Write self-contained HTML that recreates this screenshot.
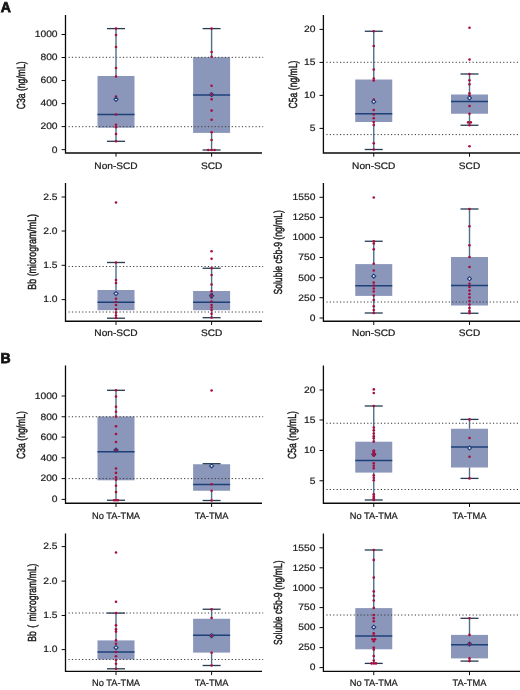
<!DOCTYPE html>
<html lang="en"><head><meta charset="utf-8"><title>Complement levels box plots</title>
<style>
html,body{margin:0;padding:0;background:#fff;}
body{width:520px;height:690px;overflow:hidden;}
svg{display:block;}
text{font-family:"Liberation Sans", sans-serif;fill:#1a1a1a;text-rendering:geometricPrecision;}
.tk{font-size:9.2px;text-anchor:end;stroke:#1a1a1a;stroke-width:0.2;}
.xl{font-size:9.4px;text-anchor:middle;stroke:#1a1a1a;stroke-width:0.22;}
.yl{font-size:11.7px;text-anchor:middle;stroke:#1a1a1a;stroke-width:0.45;}
.pl{font-size:14.3px;font-weight:bold;fill:#111;stroke:#111;stroke-width:0.75;}
.ax{stroke:#0a0a0a;stroke-width:1.3;fill:none;}
.tm{stroke:#0a0a0a;stroke-width:1.0;fill:none;}
.dt{stroke:#3a3a3a;stroke-width:1;stroke-dasharray:1.2 2.2;fill:none;}
.bx{fill:#8b97ba;}
.md{stroke:#1d4079;stroke-width:1.5;fill:none;}
.wh{stroke:#4f6f8b;stroke-width:1.4;fill:none;}
.cp{stroke:#263a52;stroke-width:1.3;fill:none;}
.pt{fill:#a80e3d;}
.mn{fill:#e6e9f3;stroke:#1d3a78;stroke-width:1.1;}
</style></head><body>
<svg width="520" height="690" viewBox="0 0 520 690" role="img" aria-label="Box plots of complement levels">
<rect width="520" height="690" fill="#ffffff"/>
<text class="pl" transform="translate(0.7 12.2) scale(0.98 1)">A</text>
<text class="pl" transform="translate(0.6 363.3) scale(0.98 1)">B</text>
<g>
<rect class="bx" x="97.5" y="76" width="37" height="51.7"/>
<rect class="bx" x="193.1" y="57.2" width="37" height="75.7"/>
<line class="dt" x1="68.5" y1="57.3" x2="263.2" y2="57.3"/>
<line class="dt" x1="68.5" y1="126.7" x2="263.2" y2="126.7"/>
<line class="wh" x1="116" y1="28.6" x2="116" y2="76"/>
<line class="wh" x1="116" y1="127.7" x2="116" y2="141.3"/>
<line class="cp" x1="107" y1="28.6" x2="125" y2="28.6"/>
<line class="cp" x1="107" y1="141.3" x2="125" y2="141.3"/>
<line class="md" x1="97.5" y1="114.6" x2="134.5" y2="114.6"/>
<circle class="pt" cx="116" cy="28.6" r="1.3"/>
<circle class="pt" cx="116" cy="35" r="1.3"/>
<circle class="pt" cx="116" cy="47" r="1.3"/>
<circle class="pt" cx="116" cy="68" r="1.3"/>
<circle class="pt" cx="116" cy="76.5" r="1.3"/>
<circle class="pt" cx="116" cy="96.6" r="1.3"/>
<circle class="pt" cx="116" cy="114.5" r="1.3"/>
<circle class="pt" cx="116" cy="124.7" r="1.3"/>
<circle class="pt" cx="116" cy="127.3" r="1.3"/>
<circle class="pt" cx="116" cy="134" r="1.3"/>
<circle class="pt" cx="116" cy="141.3" r="1.3"/>
<path class="mn" d="M116 97.25L118.05 99.3L116 101.35L113.95 99.3Z"/>
<line class="wh" x1="211.6" y1="28.6" x2="211.6" y2="57.2"/>
<line class="wh" x1="211.6" y1="132.9" x2="211.6" y2="150"/>
<line class="cp" x1="202.6" y1="28.6" x2="220.6" y2="28.6"/>
<line class="cp" x1="202.6" y1="150" x2="220.6" y2="150"/>
<line class="md" x1="193.1" y1="95" x2="230.1" y2="95"/>
<circle class="pt" cx="211.6" cy="28.6" r="1.3"/>
<circle class="pt" cx="211.6" cy="52" r="1.3"/>
<circle class="pt" cx="211.6" cy="56.7" r="1.3"/>
<circle class="pt" cx="211.6" cy="85.7" r="1.3"/>
<circle class="pt" cx="211.6" cy="99.2" r="1.3"/>
<circle class="pt" cx="211.6" cy="110.6" r="1.3"/>
<circle class="pt" cx="211.6" cy="119.8" r="1.3"/>
<circle class="pt" cx="211.6" cy="132.2" r="1.3"/>
<circle class="pt" cx="211.6" cy="140" r="1.3"/>
<circle class="pt" cx="208.3" cy="150" r="1.3"/>
<circle class="pt" cx="211.6" cy="150" r="1.3"/>
<circle class="pt" cx="214.6" cy="150" r="1.3"/>
<path class="mn" d="M211.6 92.55L213.65 94.6L211.6 96.65L209.55 94.6Z"/>
<circle class="pt" cx="211.6" cy="94.6" r="1.3"/>
<path class="ax" d="M65.5 15V153H262"/>
<line class="tm" x1="61.6" y1="34.5" x2="65.5" y2="34.5"/>
<text class="tk" transform="translate(57.6 37.35) scale(1.12 1)">1000</text>
<line class="tm" x1="61.6" y1="57.5" x2="65.5" y2="57.5"/>
<text class="tk" transform="translate(57.6 60.35) scale(1.12 1)">800</text>
<line class="tm" x1="61.6" y1="80.55" x2="65.5" y2="80.55"/>
<text class="tk" transform="translate(57.6 83.4) scale(1.12 1)">600</text>
<line class="tm" x1="61.6" y1="103.6" x2="65.5" y2="103.6"/>
<text class="tk" transform="translate(57.6 106.45) scale(1.12 1)">400</text>
<line class="tm" x1="61.6" y1="126.6" x2="65.5" y2="126.6"/>
<text class="tk" transform="translate(57.6 129.45) scale(1.12 1)">200</text>
<line class="tm" x1="61.6" y1="149.65" x2="65.5" y2="149.65"/>
<text class="tk" transform="translate(57.6 152.5) scale(1.12 1)">0</text>
<line class="tm" x1="116" y1="153" x2="116" y2="156.7"/>
<text class="xl" transform="translate(116 168.75) scale(1.08 1)">Non-SCD</text>
<line class="tm" x1="211.6" y1="153" x2="211.6" y2="156.7"/>
<text class="xl" transform="translate(211.6 168.75) scale(1.08 1)">SCD</text>
<text class="yl" transform="translate(24.8 85.3) rotate(-90) scale(0.735 1)">C3a (ng/mL)</text>
</g>
<g>
<rect class="bx" x="355.25" y="79.5" width="37" height="42.5"/>
<rect class="bx" x="451" y="94.5" width="37" height="19.25"/>
<line class="dt" x1="326.4" y1="62.3" x2="520" y2="62.3"/>
<line class="dt" x1="326.4" y1="134.6" x2="520" y2="134.6"/>
<line class="wh" x1="373.75" y1="31.25" x2="373.75" y2="79.5"/>
<line class="wh" x1="373.75" y1="122" x2="373.75" y2="149.5"/>
<line class="cp" x1="364.75" y1="31.25" x2="382.75" y2="31.25"/>
<line class="cp" x1="364.75" y1="149.5" x2="382.75" y2="149.5"/>
<line class="md" x1="355.25" y1="113.75" x2="392.25" y2="113.75"/>
<circle class="pt" cx="373.75" cy="31.25" r="1.3"/>
<circle class="pt" cx="373.75" cy="46" r="1.3"/>
<circle class="pt" cx="373.75" cy="69.5" r="1.3"/>
<circle class="pt" cx="373.75" cy="78.5" r="1.3"/>
<circle class="pt" cx="373.75" cy="80.5" r="1.3"/>
<circle class="pt" cx="373.75" cy="99.5" r="1.3"/>
<circle class="pt" cx="373.75" cy="110" r="1.3"/>
<circle class="pt" cx="373.75" cy="114.5" r="1.3"/>
<circle class="pt" cx="373.75" cy="118.25" r="1.3"/>
<circle class="pt" cx="373.75" cy="122" r="1.3"/>
<circle class="pt" cx="373.75" cy="125" r="1.3"/>
<circle class="pt" cx="373.75" cy="143.25" r="1.3"/>
<circle class="pt" cx="373.75" cy="149.5" r="1.3"/>
<path class="mn" d="M373.75 99.7L375.8 101.75L373.75 103.8L371.7 101.75Z"/>
<line class="wh" x1="469.5" y1="74" x2="469.5" y2="94.5"/>
<line class="wh" x1="469.5" y1="113.75" x2="469.5" y2="125.25"/>
<line class="cp" x1="460.5" y1="74" x2="478.5" y2="74"/>
<line class="cp" x1="460.5" y1="125.25" x2="478.5" y2="125.25"/>
<line class="md" x1="451" y1="101.5" x2="488" y2="101.5"/>
<circle class="pt" cx="469.5" cy="27.75" r="1.3"/>
<circle class="pt" cx="469.5" cy="59.5" r="1.3"/>
<circle class="pt" cx="469.5" cy="74" r="1.3"/>
<circle class="pt" cx="469.5" cy="80.3" r="1.3"/>
<circle class="pt" cx="469.5" cy="84.3" r="1.3"/>
<circle class="pt" cx="469.5" cy="93.4" r="1.3"/>
<circle class="pt" cx="469.5" cy="95.6" r="1.3"/>
<circle class="pt" cx="469.5" cy="106" r="1.3"/>
<circle class="pt" cx="469.5" cy="113.75" r="1.3"/>
<circle class="pt" cx="468.2" cy="122.4" r="1.3"/>
<circle class="pt" cx="470.8" cy="122.4" r="1.3"/>
<circle class="pt" cx="469.5" cy="125.25" r="1.3"/>
<circle class="pt" cx="469.5" cy="146.25" r="1.3"/>
<path class="mn" d="M469.5 95.95L471.55 98L469.5 100.05L467.45 98Z"/>
<path class="ax" d="M323.4 15V153H520"/>
<line class="tm" x1="319.5" y1="29.4" x2="323.4" y2="29.4"/>
<text class="tk" transform="translate(315.5 32.25) scale(1.12 1)">20</text>
<line class="tm" x1="319.5" y1="62.4" x2="323.4" y2="62.4"/>
<text class="tk" transform="translate(315.5 65.25) scale(1.12 1)">15</text>
<line class="tm" x1="319.5" y1="95.4" x2="323.4" y2="95.4"/>
<text class="tk" transform="translate(315.5 98.25) scale(1.12 1)">10</text>
<line class="tm" x1="319.5" y1="128.4" x2="323.4" y2="128.4"/>
<text class="tk" transform="translate(315.5 131.25) scale(1.12 1)">5</text>
<line class="tm" x1="373.75" y1="153" x2="373.75" y2="156.7"/>
<text class="xl" transform="translate(373.75 168.75) scale(1.08 1)">Non-SCD</text>
<line class="tm" x1="469.5" y1="153" x2="469.5" y2="156.7"/>
<text class="xl" transform="translate(469.5 168.75) scale(1.08 1)">SCD</text>
<text class="yl" transform="translate(296.5 84.5) rotate(-90) scale(0.735 1)">C5a (ng/mL)</text>
</g>
<g>
<rect class="bx" x="97.5" y="290" width="37" height="20.2"/>
<rect class="bx" x="193.1" y="291" width="37" height="19.2"/>
<line class="dt" x1="68.5" y1="266.5" x2="263.2" y2="266.5"/>
<line class="dt" x1="68.5" y1="312" x2="263.2" y2="312"/>
<line class="wh" x1="116" y1="262.5" x2="116" y2="290"/>
<line class="wh" x1="116" y1="310.2" x2="116" y2="318.2"/>
<line class="cp" x1="107" y1="262.5" x2="125" y2="262.5"/>
<line class="cp" x1="107" y1="318.2" x2="125" y2="318.2"/>
<line class="md" x1="97.5" y1="302.2" x2="134.5" y2="302.2"/>
<circle class="pt" cx="116" cy="202.5" r="1.3"/>
<circle class="pt" cx="116" cy="262.5" r="1.3"/>
<circle class="pt" cx="116" cy="280" r="1.3"/>
<circle class="pt" cx="116" cy="283" r="1.3"/>
<circle class="pt" cx="116" cy="293.25" r="1.3"/>
<circle class="pt" cx="116" cy="298.75" r="1.3"/>
<circle class="pt" cx="116" cy="302" r="1.3"/>
<circle class="pt" cx="116" cy="305" r="1.3"/>
<circle class="pt" cx="116" cy="309.25" r="1.3"/>
<circle class="pt" cx="116" cy="312.5" r="1.3"/>
<circle class="pt" cx="116" cy="315.5" r="1.3"/>
<circle class="pt" cx="116" cy="318" r="1.3"/>
<path class="mn" d="M116 291.55L118.05 293.6L116 295.65L113.95 293.6Z"/>
<line class="wh" x1="211.6" y1="268.25" x2="211.6" y2="291"/>
<line class="wh" x1="211.6" y1="310.2" x2="211.6" y2="317.7"/>
<line class="cp" x1="202.6" y1="268.25" x2="220.6" y2="268.25"/>
<line class="cp" x1="202.6" y1="317.7" x2="220.6" y2="317.7"/>
<line class="md" x1="193.1" y1="302.2" x2="230.1" y2="302.2"/>
<circle class="pt" cx="211.6" cy="251.25" r="1.3"/>
<circle class="pt" cx="211.6" cy="258.75" r="1.3"/>
<circle class="pt" cx="211.6" cy="268.25" r="1.3"/>
<circle class="pt" cx="211.6" cy="275" r="1.3"/>
<circle class="pt" cx="211.6" cy="284.5" r="1.3"/>
<circle class="pt" cx="211.6" cy="291.25" r="1.3"/>
<circle class="pt" cx="211.6" cy="294" r="1.3"/>
<circle class="pt" cx="211.6" cy="297.5" r="1.3"/>
<circle class="pt" cx="211.6" cy="301.5" r="1.3"/>
<circle class="pt" cx="211.6" cy="305" r="1.3"/>
<circle class="pt" cx="211.6" cy="307.5" r="1.3"/>
<circle class="pt" cx="211.6" cy="310" r="1.3"/>
<circle class="pt" cx="211.6" cy="313.75" r="1.3"/>
<circle class="pt" cx="211.6" cy="317.5" r="1.3"/>
<path class="mn" d="M211.6 293.75L213.65 295.8L211.6 297.85L209.55 295.8Z"/>
<circle class="pt" cx="211.6" cy="295.8" r="1.3"/>
<path class="ax" d="M65.5 183V321.25H262"/>
<line class="tm" x1="61.6" y1="197" x2="65.5" y2="197"/>
<text class="tk" transform="translate(57.6 199.85) scale(1.12 1)">2.5</text>
<line class="tm" x1="61.6" y1="231" x2="65.5" y2="231"/>
<text class="tk" transform="translate(57.6 233.85) scale(1.12 1)">2.0</text>
<line class="tm" x1="61.6" y1="265.3" x2="65.5" y2="265.3"/>
<text class="tk" transform="translate(57.6 268.15) scale(1.12 1)">1.5</text>
<line class="tm" x1="61.6" y1="299.6" x2="65.5" y2="299.6"/>
<text class="tk" transform="translate(57.6 302.45) scale(1.12 1)">1.0</text>
<line class="tm" x1="116" y1="321.25" x2="116" y2="324.95"/>
<text class="xl" transform="translate(116 336.25) scale(1.08 1)">Non-SCD</text>
<line class="tm" x1="211.6" y1="321.25" x2="211.6" y2="324.95"/>
<text class="xl" transform="translate(211.6 336.25) scale(1.08 1)">SCD</text>
<text class="yl" transform="translate(36 251.8) rotate(-90) scale(0.757 1)">Bb (microgram/mL)</text>
</g>
<g>
<rect class="bx" x="355.25" y="264.1" width="37" height="31.8"/>
<rect class="bx" x="451" y="257" width="37" height="48.5"/>
<line class="dt" x1="326.4" y1="302" x2="520" y2="302"/>
<line class="wh" x1="373.75" y1="241.25" x2="373.75" y2="264.1"/>
<line class="wh" x1="373.75" y1="295.9" x2="373.75" y2="313"/>
<line class="cp" x1="364.75" y1="241.25" x2="382.75" y2="241.25"/>
<line class="cp" x1="364.75" y1="313" x2="382.75" y2="313"/>
<line class="md" x1="355.25" y1="285.7" x2="392.25" y2="285.7"/>
<circle class="pt" cx="373.75" cy="197.5" r="1.3"/>
<circle class="pt" cx="373.75" cy="241.25" r="1.3"/>
<circle class="pt" cx="373.75" cy="243.5" r="1.3"/>
<circle class="pt" cx="373.75" cy="249.25" r="1.3"/>
<circle class="pt" cx="373.75" cy="263.75" r="1.3"/>
<circle class="pt" cx="373.75" cy="270.5" r="1.3"/>
<circle class="pt" cx="373.75" cy="282.5" r="1.3"/>
<circle class="pt" cx="373.75" cy="285.5" r="1.3"/>
<circle class="pt" cx="373.75" cy="288.5" r="1.3"/>
<circle class="pt" cx="373.75" cy="291.5" r="1.3"/>
<circle class="pt" cx="373.75" cy="295.5" r="1.3"/>
<circle class="pt" cx="373.75" cy="300" r="1.3"/>
<circle class="pt" cx="373.75" cy="306.25" r="1.3"/>
<circle class="pt" cx="373.75" cy="310" r="1.3"/>
<circle class="pt" cx="373.75" cy="313" r="1.3"/>
<path class="mn" d="M373.75 274.15L375.8 276.2L373.75 278.25L371.7 276.2Z"/>
<line class="wh" x1="469.5" y1="209" x2="469.5" y2="257"/>
<line class="wh" x1="469.5" y1="305.5" x2="469.5" y2="313.25"/>
<line class="cp" x1="460.5" y1="209" x2="478.5" y2="209"/>
<line class="cp" x1="460.5" y1="313.25" x2="478.5" y2="313.25"/>
<line class="md" x1="451" y1="285.5" x2="488" y2="285.5"/>
<circle class="pt" cx="469.5" cy="209" r="1.3"/>
<circle class="pt" cx="469.5" cy="226.25" r="1.3"/>
<circle class="pt" cx="469.5" cy="245.25" r="1.3"/>
<circle class="pt" cx="469.5" cy="257" r="1.3"/>
<circle class="pt" cx="469.5" cy="267" r="1.3"/>
<circle class="pt" cx="469.5" cy="283.75" r="1.3"/>
<circle class="pt" cx="469.5" cy="287" r="1.3"/>
<circle class="pt" cx="469.5" cy="290.5" r="1.3"/>
<circle class="pt" cx="469.5" cy="294" r="1.3"/>
<circle class="pt" cx="469.5" cy="297.5" r="1.3"/>
<circle class="pt" cx="469.5" cy="301" r="1.3"/>
<circle class="pt" cx="469.5" cy="304.5" r="1.3"/>
<circle class="pt" cx="469.5" cy="308" r="1.3"/>
<circle class="pt" cx="469.5" cy="311" r="1.3"/>
<circle class="pt" cx="469.5" cy="313.25" r="1.3"/>
<path class="mn" d="M469.5 276.7L471.55 278.75L469.5 280.8L467.45 278.75Z"/>
<path class="ax" d="M323.4 183V321.25H520"/>
<line class="tm" x1="319.5" y1="197.3" x2="323.4" y2="197.3"/>
<text class="tk" transform="translate(315.5 200.15) scale(1.12 1)">1550</text>
<line class="tm" x1="319.5" y1="217.4" x2="323.4" y2="217.4"/>
<text class="tk" transform="translate(315.5 220.25) scale(1.12 1)">1250</text>
<line class="tm" x1="319.5" y1="237.4" x2="323.4" y2="237.4"/>
<text class="tk" transform="translate(315.5 240.25) scale(1.12 1)">1000</text>
<line class="tm" x1="319.5" y1="257.5" x2="323.4" y2="257.5"/>
<text class="tk" transform="translate(315.5 260.35) scale(1.12 1)">750</text>
<line class="tm" x1="319.5" y1="277.7" x2="323.4" y2="277.7"/>
<text class="tk" transform="translate(315.5 280.55) scale(1.12 1)">500</text>
<line class="tm" x1="319.5" y1="297.7" x2="323.4" y2="297.7"/>
<text class="tk" transform="translate(315.5 300.55) scale(1.12 1)">250</text>
<line class="tm" x1="319.5" y1="318" x2="323.4" y2="318"/>
<text class="tk" transform="translate(315.5 320.85) scale(1.12 1)">0</text>
<line class="tm" x1="373.75" y1="321.25" x2="373.75" y2="324.95"/>
<text class="xl" transform="translate(373.75 336.25) scale(1.08 1)">Non-SCD</text>
<line class="tm" x1="469.5" y1="321.25" x2="469.5" y2="324.95"/>
<text class="xl" transform="translate(469.5 336.25) scale(1.08 1)">SCD</text>
<text class="yl" transform="translate(282 252.3) rotate(-90) scale(0.735 1)">Soluble c5b-9 (ng/mL)</text>
</g>
<g>
<rect class="bx" x="97.5" y="416.5" width="37" height="63.8"/>
<rect class="bx" x="193.1" y="464.25" width="37" height="26.5"/>
<line class="dt" x1="68.5" y1="416.75" x2="263.2" y2="416.75"/>
<line class="dt" x1="68.5" y1="478.6" x2="263.2" y2="478.6"/>
<line class="wh" x1="116" y1="390.3" x2="116" y2="416.5"/>
<line class="wh" x1="116" y1="480.3" x2="116" y2="500.25"/>
<line class="cp" x1="107" y1="390.3" x2="125" y2="390.3"/>
<line class="cp" x1="107" y1="500.25" x2="125" y2="500.25"/>
<line class="md" x1="97.5" y1="451.75" x2="134.5" y2="451.75"/>
<circle class="pt" cx="116" cy="390.3" r="1.3"/>
<circle class="pt" cx="116" cy="396.5" r="1.3"/>
<circle class="pt" cx="116" cy="406.7" r="1.3"/>
<circle class="pt" cx="116" cy="411.7" r="1.3"/>
<circle class="pt" cx="116" cy="416.6" r="1.3"/>
<circle class="pt" cx="116" cy="426.25" r="1.3"/>
<circle class="pt" cx="116" cy="434" r="1.3"/>
<circle class="pt" cx="116" cy="442" r="1.3"/>
<circle class="pt" cx="116" cy="468.5" r="1.3"/>
<circle class="pt" cx="116" cy="472.9" r="1.3"/>
<circle class="pt" cx="116" cy="477.4" r="1.3"/>
<circle class="pt" cx="116" cy="479.8" r="1.3"/>
<circle class="pt" cx="116" cy="485.7" r="1.3"/>
<circle class="pt" cx="116" cy="492.1" r="1.3"/>
<circle class="pt" cx="114.1" cy="500.3" r="1.3"/>
<circle class="pt" cx="116" cy="500.3" r="1.3"/>
<circle class="pt" cx="117.9" cy="500.3" r="1.3"/>
<path class="mn" d="M116 448.05L118.05 450.1L116 452.15L113.95 450.1Z"/>
<circle class="pt" cx="116" cy="450.1" r="1.3"/>
<line class="wh" x1="211.6" y1="463.7" x2="211.6" y2="464.25"/>
<line class="wh" x1="211.6" y1="490.75" x2="211.6" y2="500.5"/>
<line class="cp" x1="202.6" y1="463.7" x2="220.6" y2="463.7"/>
<line class="cp" x1="202.6" y1="500.5" x2="220.6" y2="500.5"/>
<line class="md" x1="193.1" y1="484.6" x2="230.1" y2="484.6"/>
<circle class="pt" cx="211.6" cy="390.5" r="1.3"/>
<circle class="pt" cx="211.6" cy="465.75" r="1.3"/>
<circle class="pt" cx="211.6" cy="484.25" r="1.3"/>
<circle class="pt" cx="211.6" cy="490.75" r="1.3"/>
<circle class="pt" cx="211.6" cy="500.5" r="1.3"/>
<path class="mn" d="M211.6 463.85L213.65 465.9L211.6 467.95L209.55 465.9Z"/>
<path class="ax" d="M65.5 365.5V503.25H262"/>
<line class="tm" x1="61.6" y1="396" x2="65.5" y2="396"/>
<text class="tk" transform="translate(57.6 398.85) scale(1.12 1)">1000</text>
<line class="tm" x1="61.6" y1="416.75" x2="65.5" y2="416.75"/>
<text class="tk" transform="translate(57.6 419.6) scale(1.12 1)">800</text>
<line class="tm" x1="61.6" y1="437.1" x2="65.5" y2="437.1"/>
<text class="tk" transform="translate(57.6 439.95) scale(1.12 1)">600</text>
<line class="tm" x1="61.6" y1="457.8" x2="65.5" y2="457.8"/>
<text class="tk" transform="translate(57.6 460.65) scale(1.12 1)">400</text>
<line class="tm" x1="61.6" y1="478.6" x2="65.5" y2="478.6"/>
<text class="tk" transform="translate(57.6 481.45) scale(1.12 1)">200</text>
<line class="tm" x1="61.6" y1="499.4" x2="65.5" y2="499.4"/>
<text class="tk" transform="translate(57.6 502.25) scale(1.12 1)">0</text>
<line class="tm" x1="116" y1="503.25" x2="116" y2="506.95"/>
<text class="xl" transform="translate(116 518.75) scale(0.99 1)">No TA-TMA</text>
<line class="tm" x1="211.6" y1="503.25" x2="211.6" y2="506.95"/>
<text class="xl" transform="translate(211.6 518.75) scale(0.99 1)">TA-TMA</text>
<text class="yl" transform="translate(24.8 435) rotate(-90) scale(0.735 1)">C3a (ng/mL)</text>
</g>
<g>
<rect class="bx" x="355.25" y="441.7" width="37" height="30.9"/>
<rect class="bx" x="451" y="428.75" width="37" height="38.75"/>
<line class="dt" x1="326.4" y1="423.25" x2="520" y2="423.25"/>
<line class="dt" x1="326.4" y1="489.5" x2="520" y2="489.5"/>
<line class="wh" x1="373.75" y1="406" x2="373.75" y2="441.7"/>
<line class="wh" x1="373.75" y1="472.6" x2="373.75" y2="500"/>
<line class="cp" x1="364.75" y1="406" x2="382.75" y2="406"/>
<line class="cp" x1="364.75" y1="500" x2="382.75" y2="500"/>
<line class="md" x1="355.25" y1="460.5" x2="392.25" y2="460.5"/>
<circle class="pt" cx="373.75" cy="389.4" r="1.3"/>
<circle class="pt" cx="373.75" cy="393" r="1.3"/>
<circle class="pt" cx="373.75" cy="406" r="1.3"/>
<circle class="pt" cx="373.75" cy="427.5" r="1.3"/>
<circle class="pt" cx="373.75" cy="430.3" r="1.3"/>
<circle class="pt" cx="373.75" cy="433.5" r="1.3"/>
<circle class="pt" cx="373.75" cy="436.2" r="1.3"/>
<circle class="pt" cx="373.75" cy="438.3" r="1.3"/>
<circle class="pt" cx="373.75" cy="441.6" r="1.3"/>
<circle class="pt" cx="373.75" cy="463.3" r="1.3"/>
<circle class="pt" cx="373.75" cy="465.8" r="1.3"/>
<circle class="pt" cx="373.75" cy="468.2" r="1.3"/>
<circle class="pt" cx="373.75" cy="475.2" r="1.3"/>
<circle class="pt" cx="373.75" cy="477.8" r="1.3"/>
<circle class="pt" cx="373.75" cy="480.2" r="1.3"/>
<circle class="pt" cx="373.75" cy="494.2" r="1.3"/>
<circle class="pt" cx="373.75" cy="496.4" r="1.3"/>
<circle class="pt" cx="373.75" cy="498.2" r="1.3"/>
<circle class="pt" cx="373.75" cy="500" r="1.3"/>
<path class="mn" d="M373.75 452.2L375.8 454.25L373.75 456.3L371.7 454.25Z"/>
<circle class="pt" cx="373.75" cy="450.8" r="1.6"/>
<circle class="pt" cx="373.75" cy="453.3" r="1.6"/>
<circle class="pt" cx="373.75" cy="455.3" r="1.6"/>
<line class="wh" x1="469.5" y1="419.4" x2="469.5" y2="428.75"/>
<line class="wh" x1="469.5" y1="467.5" x2="469.5" y2="478.4"/>
<line class="cp" x1="460.5" y1="419.4" x2="478.5" y2="419.4"/>
<line class="cp" x1="460.5" y1="478.4" x2="478.5" y2="478.4"/>
<line class="md" x1="451" y1="447" x2="488" y2="447"/>
<circle class="pt" cx="469.5" cy="419.4" r="1.3"/>
<circle class="pt" cx="469.5" cy="438" r="1.3"/>
<circle class="pt" cx="469.5" cy="456.75" r="1.3"/>
<circle class="pt" cx="469.5" cy="478.4" r="1.3"/>
<path class="mn" d="M469.5 445.95L471.55 448L469.5 450.05L467.45 448Z"/>
<path class="ax" d="M323.4 365.5V503.25H520"/>
<line class="tm" x1="319.5" y1="390" x2="323.4" y2="390"/>
<text class="tk" transform="translate(315.5 392.85) scale(1.12 1)">20</text>
<line class="tm" x1="319.5" y1="420" x2="323.4" y2="420"/>
<text class="tk" transform="translate(315.5 422.85) scale(1.12 1)">15</text>
<line class="tm" x1="319.5" y1="450.5" x2="323.4" y2="450.5"/>
<text class="tk" transform="translate(315.5 453.35) scale(1.12 1)">10</text>
<line class="tm" x1="319.5" y1="480.75" x2="323.4" y2="480.75"/>
<text class="tk" transform="translate(315.5 483.6) scale(1.12 1)">5</text>
<line class="tm" x1="373.75" y1="503.25" x2="373.75" y2="506.95"/>
<text class="xl" transform="translate(373.75 518.75) scale(0.99 1)">No TA-TMA</text>
<line class="tm" x1="469.5" y1="503.25" x2="469.5" y2="506.95"/>
<text class="xl" transform="translate(469.5 518.75) scale(0.99 1)">TA-TMA</text>
<text class="yl" transform="translate(296.4 435) rotate(-90) scale(0.735 1)">C5a (ng/mL)</text>
</g>
<g>
<rect class="bx" x="97.5" y="640.4" width="37" height="19.1"/>
<rect class="bx" x="193.1" y="618.75" width="37" height="33.85"/>
<line class="dt" x1="68.5" y1="613" x2="263.2" y2="613"/>
<line class="dt" x1="68.5" y1="659.5" x2="263.2" y2="659.5"/>
<line class="wh" x1="116" y1="613.1" x2="116" y2="640.4"/>
<line class="wh" x1="116" y1="659.5" x2="116" y2="668.8"/>
<line class="cp" x1="107" y1="613.1" x2="125" y2="613.1"/>
<line class="cp" x1="107" y1="668.8" x2="125" y2="668.8"/>
<line class="md" x1="97.5" y1="652" x2="134.5" y2="652"/>
<circle class="pt" cx="116" cy="552.5" r="1.3"/>
<circle class="pt" cx="116" cy="601.75" r="1.3"/>
<circle class="pt" cx="116" cy="613.1" r="1.3"/>
<circle class="pt" cx="116" cy="625.2" r="1.3"/>
<circle class="pt" cx="116" cy="629.4" r="1.3"/>
<circle class="pt" cx="116" cy="631.6" r="1.3"/>
<circle class="pt" cx="116" cy="640.4" r="1.3"/>
<circle class="pt" cx="116" cy="643.75" r="1.3"/>
<circle class="pt" cx="116" cy="652" r="1.3"/>
<circle class="pt" cx="116" cy="656.25" r="1.3"/>
<circle class="pt" cx="116" cy="660" r="1.3"/>
<circle class="pt" cx="116" cy="663.75" r="1.3"/>
<circle class="pt" cx="116" cy="668.8" r="1.3"/>
<path class="mn" d="M116 645.65L118.05 647.7L116 649.75L113.95 647.7Z"/>
<line class="wh" x1="211.6" y1="609.25" x2="211.6" y2="618.75"/>
<line class="wh" x1="211.6" y1="652.6" x2="211.6" y2="665.5"/>
<line class="cp" x1="202.6" y1="609.25" x2="220.6" y2="609.25"/>
<line class="cp" x1="202.6" y1="665.5" x2="220.6" y2="665.5"/>
<line class="md" x1="193.1" y1="635.25" x2="230.1" y2="635.25"/>
<circle class="pt" cx="211.6" cy="609.25" r="1.3"/>
<circle class="pt" cx="211.6" cy="618" r="1.3"/>
<circle class="pt" cx="211.6" cy="652.8" r="1.3"/>
<circle class="pt" cx="211.6" cy="665.5" r="1.3"/>
<path class="mn" d="M211.6 633.7L213.65 635.75L211.6 637.8L209.55 635.75Z"/>
<circle class="pt" cx="211.6" cy="635.75" r="1.3"/>
<path class="ax" d="M65.5 533.4V671.4H262"/>
<line class="tm" x1="61.6" y1="546.6" x2="65.5" y2="546.6"/>
<text class="tk" transform="translate(57.6 549.45) scale(1.12 1)">2.5</text>
<line class="tm" x1="61.6" y1="581.1" x2="65.5" y2="581.1"/>
<text class="tk" transform="translate(57.6 583.95) scale(1.12 1)">2.0</text>
<line class="tm" x1="61.6" y1="615.5" x2="65.5" y2="615.5"/>
<text class="tk" transform="translate(57.6 618.35) scale(1.12 1)">1.5</text>
<line class="tm" x1="61.6" y1="649.6" x2="65.5" y2="649.6"/>
<text class="tk" transform="translate(57.6 652.45) scale(1.12 1)">1.0</text>
<line class="tm" x1="116" y1="671.4" x2="116" y2="675.1"/>
<text class="xl" transform="translate(116 686.25) scale(0.99 1)">No TA-TMA</text>
<line class="tm" x1="211.6" y1="671.4" x2="211.6" y2="675.1"/>
<text class="xl" transform="translate(211.6 686.25) scale(0.99 1)">TA-TMA</text>
<text class="yl" style="word-spacing:1.6px" transform="translate(36 602.7) rotate(-90) scale(0.735 1)">Bb ( microgram/mL)</text>
</g>
<g>
<rect class="bx" x="355.25" y="608.1" width="37" height="41.2"/>
<rect class="bx" x="451" y="634.9" width="37" height="23.5"/>
<line class="dt" x1="326.4" y1="615" x2="520" y2="615"/>
<line class="wh" x1="373.75" y1="550" x2="373.75" y2="608.1"/>
<line class="wh" x1="373.75" y1="649.3" x2="373.75" y2="663.4"/>
<line class="cp" x1="364.75" y1="550" x2="382.75" y2="550"/>
<line class="cp" x1="364.75" y1="663.4" x2="382.75" y2="663.4"/>
<line class="md" x1="355.25" y1="635.9" x2="392.25" y2="635.9"/>
<circle class="pt" cx="373.75" cy="550" r="1.3"/>
<circle class="pt" cx="373.75" cy="559.9" r="1.3"/>
<circle class="pt" cx="373.75" cy="577.6" r="1.3"/>
<circle class="pt" cx="373.75" cy="591.4" r="1.3"/>
<circle class="pt" cx="373.75" cy="595.8" r="1.3"/>
<circle class="pt" cx="373.75" cy="600.5" r="1.3"/>
<circle class="pt" cx="373.75" cy="608" r="1.3"/>
<circle class="pt" cx="373.75" cy="615.1" r="1.3"/>
<circle class="pt" cx="373.75" cy="618.2" r="1.3"/>
<circle class="pt" cx="373.75" cy="621.2" r="1.3"/>
<circle class="pt" cx="373.75" cy="633.3" r="1.3"/>
<circle class="pt" cx="373.75" cy="635.5" r="1.3"/>
<circle class="pt" cx="372.45" cy="639.2" r="1.3"/>
<circle class="pt" cx="375.05" cy="639.2" r="1.3"/>
<circle class="pt" cx="373.75" cy="641.2" r="1.3"/>
<circle class="pt" cx="373.75" cy="647.6" r="1.3"/>
<circle class="pt" cx="373.75" cy="649.6" r="1.3"/>
<circle class="pt" cx="373.75" cy="656.1" r="1.3"/>
<circle class="pt" cx="373.75" cy="660.6" r="1.3"/>
<circle class="pt" cx="371.55" cy="663.4" r="1.3"/>
<circle class="pt" cx="373.75" cy="663.4" r="1.3"/>
<circle class="pt" cx="375.95" cy="663.4" r="1.3"/>
<path class="mn" d="M373.75 625.15L375.8 627.2L373.75 629.25L371.7 627.2Z"/>
<line class="wh" x1="469.5" y1="618.3" x2="469.5" y2="634.9"/>
<line class="wh" x1="469.5" y1="658.4" x2="469.5" y2="661.1"/>
<line class="cp" x1="460.5" y1="618.3" x2="478.5" y2="618.3"/>
<line class="cp" x1="460.5" y1="661.1" x2="478.5" y2="661.1"/>
<line class="md" x1="451" y1="644.8" x2="488" y2="644.8"/>
<circle class="pt" cx="469.5" cy="618.3" r="1.3"/>
<circle class="pt" cx="469.5" cy="634.9" r="1.3"/>
<circle class="pt" cx="469.5" cy="658.4" r="1.3"/>
<circle class="pt" cx="469.5" cy="661.1" r="1.3"/>
<path class="mn" d="M469.5 641.95L471.55 644L469.5 646.05L467.45 644Z"/>
<circle class="pt" cx="469.5" cy="644" r="1.3"/>
<path class="ax" d="M323.4 533.4V671.45H520"/>
<line class="tm" x1="319.5" y1="547.8" x2="323.4" y2="547.8"/>
<text class="tk" transform="translate(315.5 550.65) scale(1.12 1)">1550</text>
<line class="tm" x1="319.5" y1="567.8" x2="323.4" y2="567.8"/>
<text class="tk" transform="translate(315.5 570.65) scale(1.12 1)">1250</text>
<line class="tm" x1="319.5" y1="587.8" x2="323.4" y2="587.8"/>
<text class="tk" transform="translate(315.5 590.65) scale(1.12 1)">1000</text>
<line class="tm" x1="319.5" y1="607.6" x2="323.4" y2="607.6"/>
<text class="tk" transform="translate(315.5 610.45) scale(1.12 1)">750</text>
<line class="tm" x1="319.5" y1="627.6" x2="323.4" y2="627.6"/>
<text class="tk" transform="translate(315.5 630.45) scale(1.12 1)">500</text>
<line class="tm" x1="319.5" y1="647.6" x2="323.4" y2="647.6"/>
<text class="tk" transform="translate(315.5 650.45) scale(1.12 1)">250</text>
<line class="tm" x1="319.5" y1="667.6" x2="323.4" y2="667.6"/>
<text class="tk" transform="translate(315.5 670.45) scale(1.12 1)">0</text>
<line class="tm" x1="373.75" y1="671.45" x2="373.75" y2="675.15"/>
<text class="xl" transform="translate(373.75 686.25) scale(0.99 1)">No TA-TMA</text>
<line class="tm" x1="469.5" y1="671.45" x2="469.5" y2="675.15"/>
<text class="xl" transform="translate(469.5 686.25) scale(0.99 1)">TA-TMA</text>
<text class="yl" transform="translate(282 602.75) rotate(-90) scale(0.735 1)">Soluble c5b-9 (ng/mL)</text>
</g>
</svg>
</body></html>
